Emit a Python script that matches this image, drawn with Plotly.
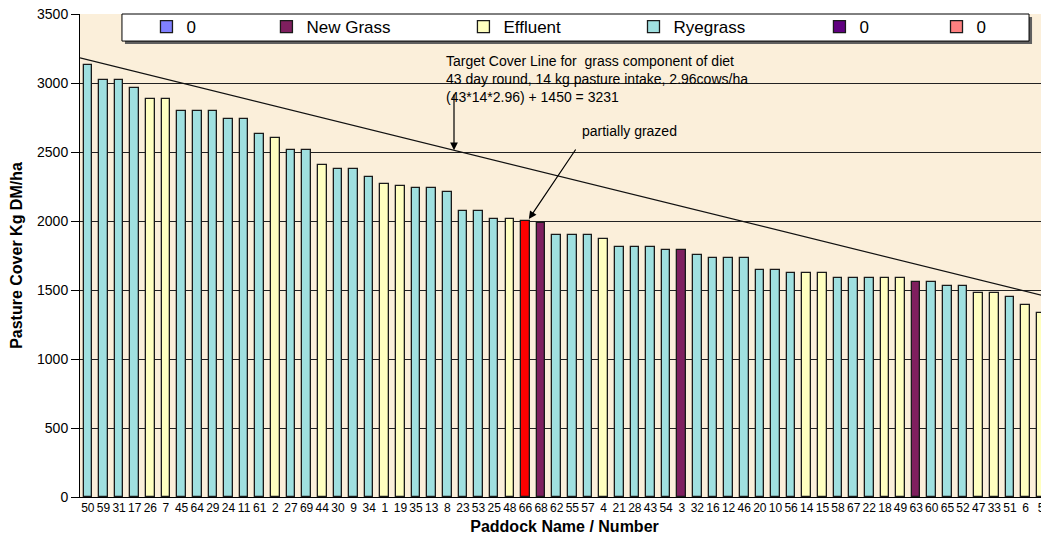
import plotly.graph_objects as go

paddocks = ["50", "59", "31", "17", "26", "7", "45", "64", "29", "24",
            "11", "61", "2", "27", "69", "44", "30", "9", "34", "1",
            "19", "35", "13", "8", "23", "53", "25", "48", "66", "68",
            "62", "55", "57", "4", "21", "28", "43", "54", "3", "32",
            "16", "12", "46", "20", "10", "56", "14", "15", "58", "67",
            "22", "18", "49", "63", "60", "65", "52", "47", "33", "51",
            "6", "5"]
cover = [3133, 3022, 3022, 2964, 2881, 2881, 2796, 2796, 2796, 2740,
         2740, 2629, 2600, 2517, 2517, 2405, 2376, 2376, 2321, 2265,
         2252, 2238, 2238, 2211, 2069, 2069, 2012, 2012, 2000, 1985,
         1900, 1900, 1900, 1871, 1814, 1814, 1814, 1787, 1787, 1757,
         1730, 1731, 1731, 1646, 1646, 1622, 1622, 1622, 1590, 1590,
         1590, 1590, 1590, 1561, 1561, 1531, 1531, 1480, 1480, 1449,
         1392, 1336]
# R = Ryegrass, E = Effluent, N = New Grass, P = partially grazed
ptype = ["R", "R", "R", "R", "E", "E", "R", "R", "R", "R",
         "R", "R", "E", "R", "R", "E", "R", "R", "R", "E",
         "E", "R", "R", "R", "R", "R", "R", "E", "P", "N",
         "R", "R", "R", "E", "R", "R", "R", "R", "N", "R",
         "R", "R", "R", "R", "R", "R", "E", "E", "R", "R",
         "R", "E", "E", "N", "R", "R", "R", "E", "E", "R",
         "E", "E"]

# target cover line (start at left axis, end near last paddock)
target_cover = [3182, 1463]

series = [
    ("0", None, "#8080FF"),
    ("New Grass", "N", "#7F1F5F"),
    ("Effluent", "E", "#FFFFC0"),
    ("Ryegrass", "R", "#A0E0E0"),
    ("0", None, "#600080"),
    ("0", None, "#FF8080"),
]
# legend swatch positions across the legend box (paper fraction)
legend_x = [0.0686, 0.1924, 0.3957, 0.5712, 0.7631, 0.8839]

pos = list(range(len(paddocks)))
font = "Arial, Liberation Sans, sans-serif"

fig = go.Figure()
legends = {}
for i, (name, code, color) in enumerate(series):
    key = "legend" if i == 0 else f"legend{i + 1}"
    ys = [v if t == code else None for v, t in zip(cover, ptype)]
    fig.add_trace(go.Bar(
        x=pos, y=ys, name=name, width=0.55, legend=key,
        marker=dict(color=color, line=dict(color="#1a1a1a", width=1.3)),
    ))
    legends[key] = dict(
        x=legend_x[i], y=0.973, xanchor="left", yanchor="middle",
        bgcolor="rgba(0,0,0,0)", borderwidth=0, itemwidth=30,
        font=dict(family=font, size=17, color="black"),
    )

fig.add_trace(go.Bar(
    x=pos, y=[v if t == "P" else None for v, t in zip(cover, ptype)],
    name="partially grazed", showlegend=False, width=0.55,
    marker=dict(color="#FF0000", line=dict(color="#1a1a1a", width=1.3)),
))

fig.add_trace(go.Scatter(
    x=[-0.5, pos[-1]], y=target_cover, mode="lines", showlegend=False,
    line=dict(color="#111111", width=1.2),
))

# legend frame with a drop shadow
fig.add_shape(type="rect", xref="paper", yref="paper", x0=0.0464, x1=0.9825,
              y0=0.938, y1=0.994, fillcolor="#606060", line=dict(width=0))
fig.add_shape(type="rect", xref="paper", yref="paper", x0=0.0433, x1=0.9794,
              y0=0.944, y1=1.0, fillcolor="white", line=dict(color="black", width=1))

fig.add_annotation(
    x=22.8, y=3232, xref="x", yref="y", xanchor="left", yanchor="top",
    align="left", showarrow=False, font=dict(family=font, size=14, color="black"),
    text="Target Cover Line for  grass component of diet<br>"
         "43 day round, 14 kg pasture intake, 2.96cows/ha<br>"
         "(43*14*2.96) + 1450 = 3231",
)
fig.add_annotation(
    x=23.43, y=2513, ax=23.43, ay=2927, xref="x", yref="y", axref="x", ayref="y",
    text="", showarrow=True, arrowhead=2, arrowsize=1.3, arrowwidth=1.2,
    arrowcolor="black",
)
fig.add_annotation(
    x=34.66, y=2652, xref="x", yref="y", showarrow=False, text="partially grazed",
    font=dict(family=font, size=14, color="black"),
)
fig.add_annotation(
    x=28.22, y=2014, ax=31.28, ay=2529, xref="x", yref="y", axref="x", ayref="y",
    text="", showarrow=True, arrowhead=2, arrowsize=1.3, arrowwidth=1.2,
    arrowcolor="black",
)

# the page body adds an 8px offset, so the figure is 8px smaller than the window
fig.update_layout(
    width=1041, height=532,
    margin=dict(l=72, r=0, t=6, b=43),
    paper_bgcolor="white", plot_bgcolor="#FBEFDA",
    barmode="overlay", bargap=0,
    font=dict(family=font, color="black"),
    xaxis=dict(
        range=[-0.5, 61.5], tickmode="array", tickvals=pos, ticktext=paddocks,
        tickangle=0, tickfont=dict(size=12), ticks="", showgrid=False,
        showline=True, linecolor="black", zeroline=False, automargin=False,
        ticklabeloverflow="allow",
        title=dict(text="<b>Paddock Name / Number</b>", font=dict(size=16), standoff=6),
    ),
    yaxis=dict(
        range=[0, 3500], dtick=500, tickfont=dict(size=14),
        ticks="outside", ticklen=8, tickcolor="black", automargin=False,
        ticklabeloverflow="allow",
        showgrid=True, gridcolor="#222222", gridwidth=1,
        showline=True, linecolor="black", zeroline=False,
        title=dict(text="<b>Pasture Cover Kg DM/ha</b>", font=dict(size=16), standoff=19),
    ),
    **legends,
)

fig.write_html("out.html")
